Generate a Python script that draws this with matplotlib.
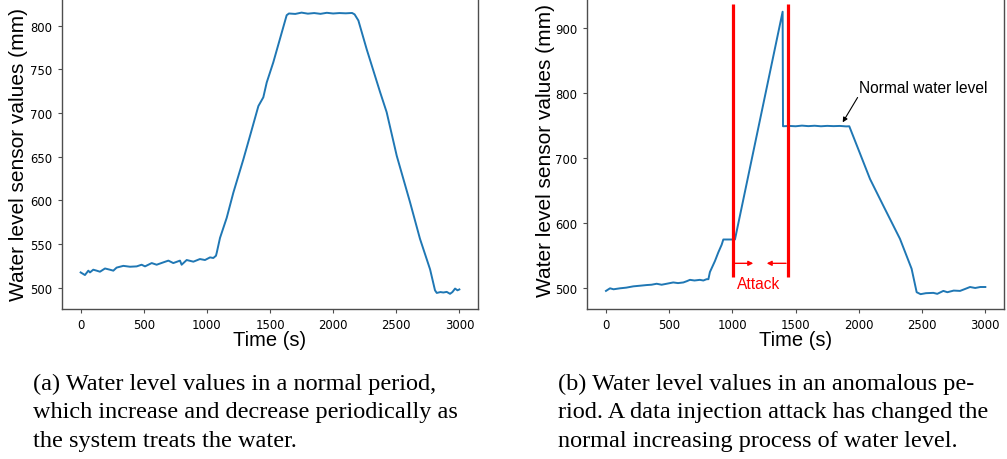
import matplotlib
matplotlib.use('Agg')
import matplotlib.pyplot as plt

# water level (a)
normal_t = [0, 34, 61, 74, 100, 127, 153, 193, 232, 259, 285, 338, 391, 444,
            483, 510, 563, 602, 655, 695, 734, 787, 800, 840, 893, 945, 985,
            1025, 1051, 1072, 1078, 1104, 1157, 1210, 1289, 1342, 1408, 1447,
            1474, 1526, 1579, 1632, 1650, 1700, 1750, 1800, 1850, 1900, 1950,
            2000, 2050, 2100, 2150, 2170, 2200, 2266, 2372, 2424, 2504, 2609,
            2688, 2768, 2807, 2821, 2850, 2873, 2900, 2926, 2945, 2966, 2985,
            3000]
normal_level = [517.5, 514.5, 519.5, 517.5, 520.6, 519.5, 518.3, 522, 520.6,
                519.5, 523, 525, 524, 524.4, 526.3, 524.4, 528.2, 526.3, 529,
                531, 528.2, 531, 526.3, 531.7, 529.8, 532.8, 531.7, 534.7, 534,
                536.6, 540, 557, 580, 609, 647, 674, 708, 718, 735, 758, 785,
                812, 814, 813.5, 815, 813.8, 814.5, 813.6, 814.8, 814, 814.5,
                814.2, 814.6, 813, 806, 773, 724, 701, 651, 598, 556, 521, 497,
                494, 495, 494.5, 495.2, 493, 495, 499, 497, 498]

# water level (b)
attack_t = [0, 32, 60, 111, 160, 216, 270, 322, 360, 401, 440, 480, 532, 570,
            612, 640, 664, 700, 743, 770, 796, 810, 822, 862, 888, 915, 928,
            1007, 1020, 1397, 1400, 1450, 1500, 1550, 1600, 1650, 1700, 1750,
            1800, 1850, 1900, 1924, 1995, 2088, 2193, 2325, 2417, 2457, 2488,
            2530, 2589, 2620, 2668, 2700, 2750, 2800, 2840, 2879, 2920, 2960,
            3000]
attack_level = [496, 500, 498.5, 500, 501, 503, 504, 505, 505.5, 507, 505.5,
                507, 509, 508, 509, 511, 513, 512, 513, 512, 514, 514, 525,
                542, 555, 567, 575, 575, 575, 925, 749, 749.5, 749, 750, 749.2,
                749.8, 749, 749.6, 749.2, 749.5, 748.8, 749, 714, 668, 627,
                576, 530, 494, 491, 492.5, 493, 491.5, 496, 494, 496.5, 496,
                499, 502, 500.5, 502, 502]

attack_start, attack_end = 1008, 1438

captions = [
    ["(a) Water level values in a normal period,",
     "which increase and decrease periodically as",
     "the system treats the water."],
    ["(b) Water level values in an anomalous pe-",
     "riod. A data injection attack has changed the",
     "normal increasing process of water level."],
]

W, H = 1007, 460
fig = plt.figure(figsize=(W / 100, H / 100), dpi=100)


def px_axes(left, top, right, bottom):
    return fig.add_axes([left / W, 1 - bottom / H, (right - left) / W, (bottom - top) / H])


def style(ax):
    for s in ax.spines.values():
        s.set_linewidth(1.0)
        s.set_color('0.3')
    ax.tick_params(labelsize=8.4, length=3.2, width=0.8, color='0.3')
    ax.set_xlim(-150, 3150)
    ax.set_xticks([0, 500, 1000, 1500, 2000, 2500, 3000])
    ax.set_xlabel('Time (s)', fontsize=14.5, family='Liberation Sans')
    ax.set_ylabel('Water level sensor values (mm)', fontsize=15, family='Liberation Sans')


ax1 = px_axes(61.7, -1.4, 478.3, 310)
ax1.plot(normal_t, normal_level, color='#1f77b4', lw=1.4)
style(ax1)
ax1.set_ylim(475.6, 832.2)
ax1.set_yticks([500, 550, 600, 650, 700, 750, 800])
ax1.xaxis.set_label_coords(0.5, -0.068)
ax1.yaxis.set_label_coords(-0.08, 0.5)

ax2 = px_axes(587.0, -9.4, 1004.3, 310)
ax2.plot(attack_t, attack_level, color='#1f77b4', lw=1.4)
ax2.vlines([attack_start, attack_end], 518, 937, color='red', lw=2.3)
style(ax2)
ax2.set_ylim(468.2, 959)
ax2.set_yticks([500, 600, 700, 800, 900])
ax2.xaxis.set_label_coords(0.5, -0.066)
ax2.yaxis.set_label_coords(-0.077, 0.5)

red_arrow = dict(arrowstyle='-|>', color='red', lw=1.0, mutation_scale=7,
                 shrinkA=0, shrinkB=0)
ax2.annotate('', xy=(1165, 538.4), xytext=(1020, 538.4), arrowprops=red_arrow)
ax2.annotate('', xy=(1271, 538.4), xytext=(1424, 538.4), arrowprops=red_arrow)
ax2.text(1205, 508, 'Attack', color='red', fontsize=11.2, family='Liberation Sans',
         ha='center', va='center')
ax2.annotate('Normal water level', xy=(1872, 755), xytext=(2003, 809),
             fontsize=11.2, family='Liberation Sans', ha='left', va='center',
             arrowprops=dict(arrowstyle='-|>', color='black', lw=0.8,
                             mutation_scale=7, relpos=(0, 0),
                             shrinkA=0, shrinkB=0))

# captions below the two panels
for x0, lines in zip([33, 558], captions):
    for y0, line in zip([390, 418.5, 447], lines):
        fig.text(x0 / W, 1 - y0 / H, line, fontsize=17.5,
                 family='Liberation Serif', ha='left', va='baseline')

fig.savefig('out.png', dpi=100)
